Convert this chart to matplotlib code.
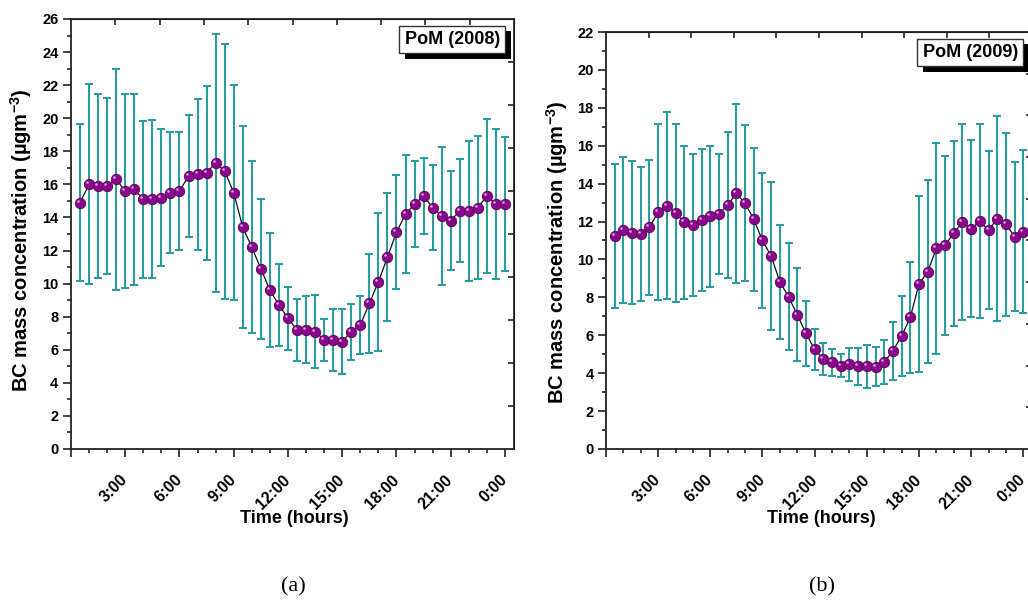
import numpy as np
import matplotlib
matplotlib.use("Agg")
import matplotlib.pyplot as plt
import matplotlib.patheffects as pe
from matplotlib.ticker import MultipleLocator
from matplotlib.transforms import offset_copy

plt.rcParams['font.family'] = ['Liberation Sans', 'DejaVu Sans']
plt.rcParams['font.weight'] = 'bold'
plt.rcParams['axes.labelweight'] = 'bold'
plt.rcParams['mathtext.fontset'] = 'custom'
plt.rcParams['mathtext.rm'] = 'Liberation Sans:bold'
plt.rcParams['mathtext.default'] = 'rm'

# Данные: получасовые средние и СКО
hours = np.arange(1, 49) * 0.5
tick_hours = [0, 3, 6, 9, 12, 15, 18, 21, 24]
tick_labels = ['', '3:00', '6:00', '9:00', '12:00', '15:00', '18:00', '21:00', '0:00']

bc_2008 = [14.9, 16.0, 15.9, 15.9, 16.3, 15.6, 15.7, 15.1, 15.1, 15.2, 15.5, 15.6,
           16.5, 16.6, 16.7, 17.3, 16.8, 15.5, 13.4, 12.2, 10.9, 9.6, 8.7, 7.9,
           7.2, 7.2, 7.1, 6.6, 6.6, 6.5, 7.1, 7.5, 8.8, 10.1, 11.6, 13.1,
           14.2, 14.8, 15.3, 14.6, 14.1, 13.8, 14.4, 14.4, 14.6, 15.3, 14.8, 14.8]
sd_2008 = [4.76, 6.05, 5.57, 5.33, 6.66, 5.84, 5.76, 4.75, 4.78, 4.12, 3.66, 3.55,
           3.70, 4.56, 5.25, 7.79, 7.70, 6.50, 6.10, 5.20, 4.22, 3.44, 2.48, 1.90,
           1.90, 2.03, 2.21, 1.26, 1.86, 1.99, 1.69, 1.77, 3.01, 4.15, 3.89, 3.44,
           3.55, 2.61, 2.30, 2.56, 4.17, 2.99, 3.11, 4.24, 4.32, 4.68, 4.54, 4.04]

bc_2009 = [11.24, 11.54, 11.42, 11.35, 11.69, 12.49, 12.83, 12.46, 11.95, 11.82, 12.09, 12.28,
           12.39, 12.88, 13.48, 12.97, 12.11, 11.0, 10.17, 8.82, 8.03, 7.08, 6.10, 5.25,
           4.76, 4.57, 4.39, 4.47, 4.36, 4.36, 4.34, 4.59, 5.18, 5.96, 6.94, 8.71,
           9.35, 10.58, 10.75, 11.39, 11.97, 11.61, 12.02, 11.53, 12.16, 11.85, 11.21, 11.46]
sd_2009 = [3.78, 3.84, 3.77, 3.53, 3.54, 4.63, 4.94, 4.69, 4.05, 3.76, 3.74, 3.73,
           3.15, 3.84, 4.73, 4.11, 3.75, 3.57, 3.89, 3.00, 2.82, 2.45, 1.70, 1.09,
           0.84, 0.71, 0.61, 0.88, 0.99, 1.14, 1.04, 1.18, 1.52, 2.13, 2.92, 4.66,
           4.82, 5.58, 4.72, 4.88, 5.16, 4.67, 5.11, 4.17, 5.40, 4.81, 3.92, 4.29]

W, H = 1028, 601
fig = plt.figure(figsize=(W / 100, H / 100), dpi=100)


def panel(left, top, right, bottom, mean, sd, ymax, title, ylab_x, ylab_y):
    w, h = right - left, bottom - top
    ax = fig.add_axes([left / W, 1 - bottom / H, w / W, h / H])
    ax.errorbar(hours, mean, yerr=sd, fmt='none', ecolor='#2a9e9e', elinewidth=1.5,
                capsize=3, capthick=1.5, zorder=2)
    ax.plot(hours, mean, color='#111111', lw=0.9, zorder=3)
    ax.plot(hours, mean, 'o', ms=7.5, mfc='#87098a', mec='#5a0060', mew=0.6, zorder=4)
    # блик на шариках
    hl = offset_copy(ax.transData, fig=fig, x=-2.0, y=2.0, units='dots')
    ax.plot(hours, mean, 'o', ms=1.8, mfc='#e6a6e6', mec='none', transform=hl, zorder=5)

    ax.set_xlim(0, 24.5)
    ax.set_ylim(0, ymax)
    ax.set_xticks(tick_hours)
    ax.set_xticklabels(tick_labels, rotation=45, ha='right', va='center',
                       rotation_mode='anchor', fontsize=11.5)
    ax.xaxis.set_minor_locator(MultipleLocator(1))
    ax.yaxis.set_major_locator(MultipleLocator(2))
    ax.yaxis.set_minor_locator(MultipleLocator(1))
    ax.tick_params(which='major', direction='out', length=5.5, width=1.2, labelsize=10.5,
                   color='#222222')
    ax.tick_params(axis='x', which='major', labelsize=11.5, pad=15)
    ax.tick_params(which='minor', direction='out', length=3, width=1.2, color='#222222')
    for s in ax.spines.values():
        s.set_linewidth(1.3)
        s.set_color('#222222')

    # верх и правая ось: 10 делений внутрь
    top_ax = ax.secondary_xaxis('top', functions=(lambda x: x / 24.5, lambda x: x * 24.5))
    top_ax.set_xticks(np.linspace(0.1, 0.9, 9))
    top_ax.tick_params(direction='in', length=4, width=1.2, labeltop=False, color='#222222')
    right_ax = ax.secondary_yaxis('right', functions=(lambda y: y / ymax, lambda y: y * ymax))
    right_ax.set_yticks(np.linspace(0.1, 0.9, 9))
    right_ax.tick_params(direction='in', length=4, width=1.2, labelright=False, color='#222222')

    ax.set_xlabel('Time (hours)', fontsize=13)
    ax.xaxis.set_label_coords(0.505, (bottom - 510) / h)
    ax.set_ylabel('BC mass concentration (µgm$^{-3}$)', fontsize=14.5)
    ax.yaxis.set_label_coords((ylab_x - left) / w, 1 - (ylab_y - top) / h)

    t = ax.text(1 - 14 / w, 1 - 12 / h, title, transform=ax.transAxes,
                ha='right', va='top', fontsize=13,
                bbox=dict(boxstyle='square,pad=0.3', fc='white', ec='#333333', lw=1))
    t.get_bbox_patch().set_path_effects(
        [pe.withSimplePatchShadow(offset=(4, -4), shadow_rgbFace='black', alpha=1.0)])
    return ax


ax1 = panel(71, 19, 514, 449, bc_2008, sd_2008, 26, 'PoM (2008)', 34, 240)
ax2 = panel(606, 32, 1032, 449, bc_2009, sd_2009, 22, 'PoM (2009)', 570, 252)

fig.text(293 / W, 1 - 587 / H, '(a)', family='Liberation Serif', weight='normal',
         fontsize=16, ha='center', va='center')
fig.text(822 / W, 1 - 587 / H, '(b)', family='Liberation Serif', weight='normal',
         fontsize=16, ha='center', va='center')

fig.savefig('out.png', dpi=100)
